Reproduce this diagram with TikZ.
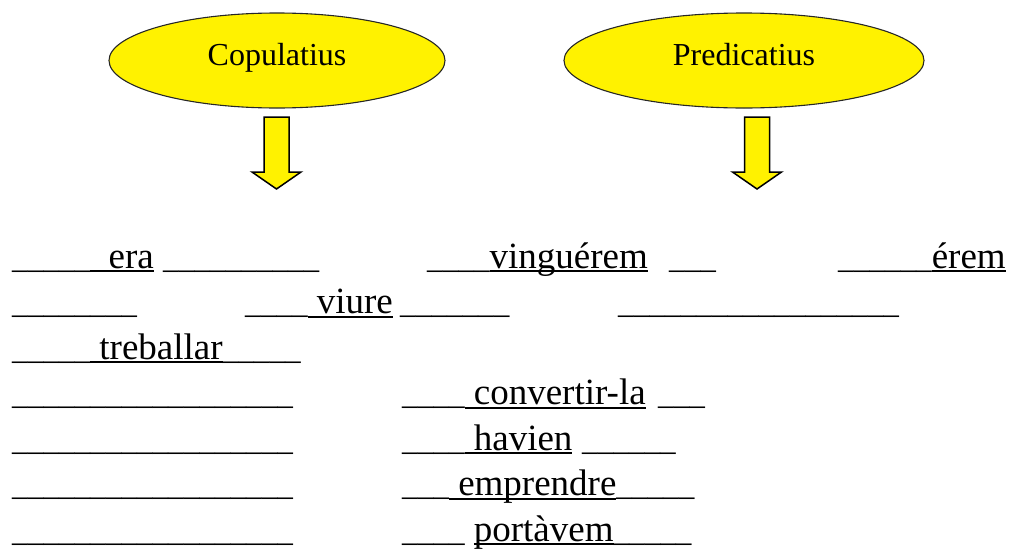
\documentclass[tikz,border=0pt]{standalone}
\usepackage{fontspec}
\setmainfont{Liberation Serif}
\usepackage{tikz}
\usetikzlibrary{positioning, calc, shapes.geometric}

% size of the blank lines, and an underline at a fixed depth
\newcommand\usz{\fontsize{31.2}{36}\selectfont}
\newcommand\uw[1]{\setbox0=\hbox{#1}\rlap{\rule[-0.11em]{\wd0}{0.05em}}\box0}

\begin{document}
\begin{tikzpicture}[x=1pt, y=-1pt,
            bubble/.style={ellipse, draw=black!85, fill=yellow, line width=1.1pt, inner sep=0pt, minimum height=95pt, text height=22pt, text depth=11.6pt, font=\fontsize{32}{36}\selectfont},
            blockarrow/.style={draw=black, fill=yellow, line width=1.5pt, line join=miter},
            txt/.style={anchor=base west, inner sep=0pt, font=\fontsize{37}{40}\selectfont}
        ]
            \useasboundingbox (0,0) rectangle (1022,549);

            % --- ellipses ---
            \node[bubble, minimum width=336pt] (cop) at (277,60.5) {Copulatius};
            \node[bubble, minimum width=360pt] (pred) at (744,60.5) {Predicatius};

            % --- arrows ---
            \coordinate (copdown) at (276.5,117);
            \coordinate (preddown) at (757,117);
            \draw[blockarrow] ([xshift=-12.5pt]copdown) -- ++(25,0) -- ++(0,55) -- ++(12,0) -- ++(-24.5,17) -- ++(-24.5,-17) -- ++(12,0) -- cycle;
            \draw[blockarrow] ([xshift=-12.5pt]preddown) -- ++(25,0) -- ++(0,55) -- ++(12,0) -- ++(-24.5,17) -- ++(-24.5,-17) -- ++(12,0) -- cycle;

            % --- row 1 ---
            \node[txt] (era) at (12,268) {{\usz\_\_\_\_\_}\uw{\ \ era}};
            \node[txt] (eraend) at (163,268) {\usz\_\_\_\_\_\_\_\_\_\_};
            \node[txt] (vingu) at (427,268) {{\usz\_\_\_\_}\uw{vinguérem}};
            \node[txt] (vinguend) at (669,268) {\usz\_\_\_};
            \node[txt] (erem) at (838,268) {{\usz\_\_\_\_\_\_}\uw{érem}};

            % --- row 2 ---
            \node[txt] (blankb) at (12,313.5) {\usz\_\_\_\_\_\_\_\_};
            \node[txt] (viure) at (245,313.5) {{\usz\_\_\_\_}\uw{\ viure}};
            \node[txt] (viureend) at (400,313.5) {\usz\_\_\_\_\_\_\_};
            \node[txt] (blankc) at (618,313.5) {\usz\_\_\_\_\_\_\_\_\_\_\_\_\_\_\_\_\_\_};

            % --- row 3 ---
            \node[txt] (treb) at (12,359) {{\usz\_\_\_\_\_}\uw{\ treballar}{\usz\_\_\_\_\_}};

            % --- rows 4 to 7 ---
            \node[txt] (blankd) at (12,404.5) {\usz\_\_\_\_\_\_\_\_\_\_\_\_\_\_\_\_\_\_};
            \node[txt] (conv) at (402,404.5) {{\usz\_\_\_\_}\uw{\ convertir-la}};
            \node[txt] (convend) at (658,404.5) {\usz\_\_\_};

            \node[txt] (blanke) at (12,450) {\usz\_\_\_\_\_\_\_\_\_\_\_\_\_\_\_\_\_\_};
            \node[txt] (hav) at (402,450) {{\usz\_\_\_\_}\uw{\ havien}};
            \node[txt] (havend) at (582,450) {\usz\_\_\_\_\_\_};

            \node[txt] (blankf) at (12,495.5) {\usz\_\_\_\_\_\_\_\_\_\_\_\_\_\_\_\_\_\_};
            \node[txt] (empr) at (402,495.5) {{\usz\_\_\_}\uw{\ emprendre}{\usz\_\_\_\_\_}};

            \node[txt] (blankg) at (12,541) {\usz\_\_\_\_\_\_\_\_\_\_\_\_\_\_\_\_\_\_};
            \node[txt] (port) at (402,541) {{\usz\_\_\_\_}\ \uw{portàvem}{\usz\_\_\_\_\_}};
        \end{tikzpicture}
\end{document}
